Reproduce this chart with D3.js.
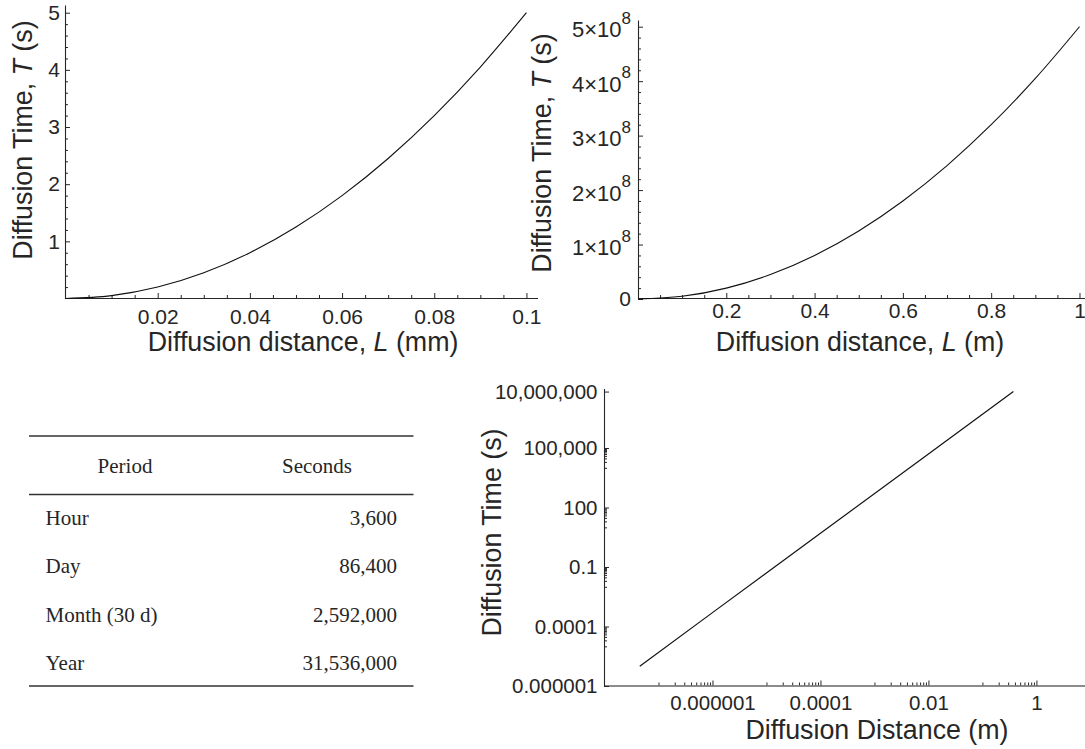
<!DOCTYPE html>
<html>
<head>
<meta charset="utf-8">
<script src="https://cdn.jsdelivr.net/npm/d3@7"></script>
<style>
body { margin: 0; background: #fff; }
svg { display: block; font-family: "Liberation Sans", Arial, Helvetica, sans-serif; }
</style>
</head>
<body>
<div class="figure"></div>
<script>
// DATA ------------------------------

// top left: short distances (mm)
const distMm = [0, 0.01, 0.02, 0.03, 0.04, 0.05, 0.06, 0.07, 0.08, 0.09, 0.1];
const timeMm = [0, 0.05, 0.2, 0.45, 0.8, 1.25, 1.8, 2.45, 3.2, 4.05, 5];
const mmTicksX = [0.02, 0.04, 0.06, 0.08, 0.1];
const mmTicksY = [1, 2, 3, 4, 5];

// top right: long distances (m)
const distM = [0, 0.1, 0.2, 0.3, 0.4, 0.5, 0.6, 0.7, 0.8, 0.9, 1];
const timeM = [0, 5e6, 2e7, 4.5e7, 8e7, 1.25e8, 1.8e8, 2.45e8, 3.2e8, 4.05e8, 5e8];
const mTicksX = [0.2, 0.4, 0.6, 0.8, 1];
const mTicksY = [0, 1e8, 2e8, 3e8, 4e8, 5e8];

// bottom right: log-log
const logDist = [4.5e-8, 1e-6, 1e-4, 1e-2, 0.375];
const logTime = [1e-6, 5e-4, 5, 5e4, 7e7];
const logTicksX = [1e-6, 1e-4, 1e-2, 1];
const logLabelsX = ["0.000001", "0.0001", "0.01", "1"];
const logTicksY = [1e-7, 1e-4, 1e-1, 1e2, 1e5, 7e7];
const logLabelsY = ["0.000001", "0.0001", "0.1", "100", "100,000", "10,000,000"];

// table
const periods = ["Hour", "Day", "Month (30 d)", "Year"];
const seconds = [3600, 86400, 2592000, 31536000];

// SETUP -----------------------------
const ink = "#262626";

const svg = d3.select(".figure")
    .append("svg")
    .attr("width", 1085)
    .attr("height", 749);

function styleAxis(g, size) {
    g.attr("font-size", size)
        .attr("font-family", null)
        .attr("color", ink);
    g.select(".domain").attr("stroke-width", 1.1);
}

// minor ticks = an axis with no labels and no domain
function minor(axis, vals, size) {
    return g => {
        g.call(axis.tickValues(vals).tickSize(-size).tickFormat(""))
            .attr("color", ink);
        g.select(".domain").remove();
    }
}

function addTitle(x, y, parts, rotate) {
    let t = svg.append("text")
        .attr("text-anchor", "middle")
        .attr("font-size", 26.8)
        .attr("fill", ink)
        .attr("transform", "translate(" + x + "," + y + ")" + (rotate ? " rotate(-90)" : ""));
    parts.forEach(p => {
        t.append("tspan")
            .style("font-style", p.italic ? "italic" : "normal")
            .text(p.text);
    });
}

const line = (xs, ys) => d3.line()
    .x(d => xs(d[0]))
    .y(d => ys(d[1]));

// PANEL 1 ---------------------------
const x1 = d3.scaleLinear().domain([0, 0.1024]).range([65.5, 537.5]);
const y1 = d3.scaleLinear().domain([0, 5.135]).range([298.5, 5]);

svg.append("g")
    .attr("transform", "translate(0,298)")
    .call(minor(d3.axisBottom(x1), d3.range(0.005, 0.1001, 0.005).filter(v => Math.abs(v * 50 - Math.round(v * 50)) > 1e-6), 3));
svg.append("g")
    .attr("transform", "translate(65,0)")
    .call(minor(d3.axisLeft(y1), d3.range(0.2, 5.01, 0.2).filter(v => Math.abs(v - Math.round(v)) > 1e-6), 3));

svg.append("g")
    .attr("transform", "translate(0,298)")
    .call(d3.axisBottom(x1).tickValues(mmTicksX).tickSizeInner(-5).tickSizeOuter(0).tickPadding(11).tickFormat(d => d))
    .call(g => styleAxis(g, 21));

svg.append("g")
    .attr("transform", "translate(65,0)")
    .call(d3.axisLeft(y1).tickValues(mmTicksY).tickSizeInner(-5).tickSizeOuter(0).tickPadding(5).tickFormat(d => d))
    .call(g => styleAxis(g, 21));

svg.append("path")
    .datum(d3.zip(distMm, timeMm))
    .attr("fill", "none")
    .attr("stroke", "#111")
    .attr("stroke-width", 1.1)
    .attr("d", line(x1, y1).curve(d3.curveMonotoneX));

addTitle(303, 351, [{text: "Diffusion distance, "}, {text: "L", italic: true}, {text: " (mm)"}]);
addTitle(32, 140, [{text: "Diffusion Time, "}, {text: "T", italic: true}, {text: " (s)"}], true);

// PANEL 2 ---------------------------
const x2 = d3.scaleLinear().domain([0, 1.0125]).range([638, 1085]);
const y2 = d3.scaleLinear().domain([0, 5.123e8]).range([299, 20]);

svg.append("g")
    .attr("transform", "translate(0,298)")
    .call(minor(d3.axisBottom(x2), d3.range(0.05, 1.001, 0.05).filter(v => Math.abs(v * 5 - Math.round(v * 5)) > 1e-6), 3));
svg.append("g")
    .attr("transform", "translate(638,0)")
    .call(minor(d3.axisLeft(y2), d3.range(2e7, 5.01e8, 2e7).filter(v => v % 1e8 !== 0), 3));

svg.append("g")
    .attr("transform", "translate(0,298)")
    .call(d3.axisBottom(x2).tickValues(mTicksX).tickSizeInner(-5).tickSizeOuter(0).tickPadding(5.5).tickFormat(d => d))
    .call(g => styleAxis(g, 21));

let yAxis2 = svg.append("g")
    .attr("transform", "translate(638,0)")
    .call(d3.axisLeft(y2).tickValues(mTicksY).tickSizeInner(-5).tickSizeOuter(0).tickPadding(7))
    .call(g => styleAxis(g, 22));

// n x 10^8 labels with a superscript
yAxis2.selectAll(".tick text").each(function(d) {
    let t = d3.select(this).text(null);
    if (d === 0) {
        t.attr("font-size", 21).text("0");
        return;
    }
    t.attr("dy", 10);
    t.append("tspan").text((d / 1e8) + "\u00d710");
    t.append("tspan").attr("dy", -13.5).attr("font-size", 17).text("8");
});

svg.append("path")
    .datum(d3.zip(distM, timeM))
    .attr("fill", "none")
    .attr("stroke", "#111")
    .attr("stroke-width", 1.1)
    .attr("d", line(x2, y2).curve(d3.curveMonotoneX));

addTitle(860, 351, [{text: "Diffusion distance, "}, {text: "L", italic: true}, {text: " (m)"}]);
addTitle(551, 153, [{text: "Diffusion Time, "}, {text: "T", italic: true}, {text: " (s)"}], true);

// PANEL 3 (log-log) -----------------
const x3 = d3.scaleLog().domain([1e-8, Math.pow(10, 0.9)]).range([604.5, 1085]);
const y3 = d3.scaleLog().domain([1e-7, 1e8]).range([686, 388.5]);

// minor ticks in the decade under each major
const logMinors = majors => majors.flatMap(m => d3.range(1, 10).map(j => j * m / 10));

svg.append("g")
    .attr("transform", "translate(0,685.5)")
    .call(minor(d3.axisBottom(x3), logMinors(logTicksX), 3));
svg.append("g")
    .attr("transform", "translate(604,0)")
    .call(minor(d3.axisLeft(y3), logMinors([1e-4, 1e-1, 1e2, 1e5]), 3));

svg.append("g")
    .attr("transform", "translate(0,685.5)")
    .call(d3.axisBottom(x3).tickValues(logTicksX).tickSizeInner(-5).tickSizeOuter(0).tickPadding(10).tickFormat((d, i) => logLabelsX[i]))
    .call(g => styleAxis(g, 20.5))
    .call(g => g.select(".domain").attr("stroke", "#666").attr("stroke-width", 1.6));

svg.append("g")
    .attr("transform", "translate(604,0)")
    .call(d3.axisLeft(y3).tickValues(logTicksY).tickSizeInner(-5).tickSizeOuter(0).tickPadding(6.5).tickFormat((d, i) => logLabelsY[i]))
    .call(g => styleAxis(g, 20.5));

svg.append("path")
    .datum(d3.zip(logDist, logTime))
    .attr("fill", "none")
    .attr("stroke", "#111")
    .attr("stroke-width", 1.2)
    .attr("d", line(x3, y3));

addTitle(877, 739, [{text: "Diffusion Distance (m)"}]);
addTitle(500.5, 532.5, [{text: "Diffusion Time (s)"}], true);

// TABLE -----------------------------
const table = svg.append("g")
    .attr("font-family", "'Liberation Serif', 'Times New Roman', serif")
    .attr("font-size", 21)
    .attr("fill", ink);

const rowY = d3.scalePoint().domain(periods).range([525, 670]);

table.selectAll(".rule")
    .data([436, 494.5, 686])
    .enter()
    .append("line")
    .attr("class", "rule")
    .attr("x1", 29)
    .attr("x2", 413.5)
    .attr("y1", d => d)
    .attr("y2", d => d)
    .attr("stroke", "#333")
    .attr("stroke-width", 1.3);

table.append("text").attr("x", 125).attr("y", 473).attr("text-anchor", "middle").text("Period");
table.append("text").attr("x", 317).attr("y", 473).attr("text-anchor", "middle").text("Seconds");

table.selectAll(".period")
    .data(periods)
    .enter()
    .append("text")
    .attr("class", "period")
    .attr("x", 45.5)
    .attr("y", d => rowY(d))
    .text(d => d);

table.selectAll(".secs")
    .data(seconds)
    .enter()
    .append("text")
    .attr("class", "secs")
    .attr("x", 397)
    .attr("y", (d, i) => rowY(periods[i]))
    .attr("text-anchor", "end")
    .text(d => d3.format(",")(d));
</script>
</body>
</html>
